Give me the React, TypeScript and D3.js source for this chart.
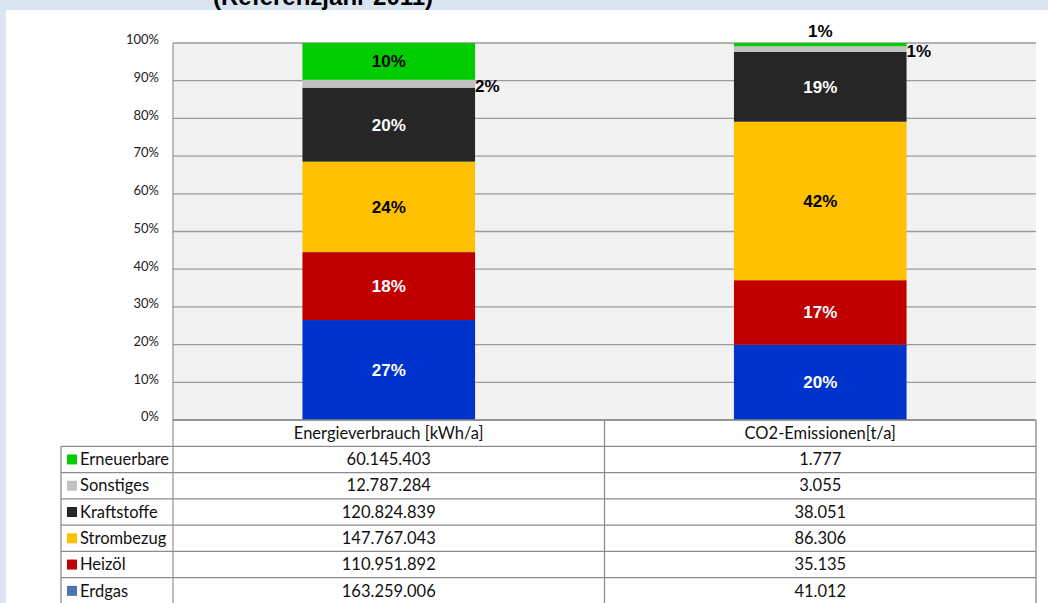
import React from "react";
import * as d3 from "d3";

// categories (columns) and the energy carriers (stack order bottom -> top)
const categories = ["Energieverbrauch [kWh/a]", "CO2-Emissionen[t/a]"];
const carriers = ["Erdgas", "Heizöl", "Strombezug", "Kraftstoffe", "Sonstiges", "Erneuerbare"];
const energyValues = [163259006, 110951892, 147767043, 120824839, 12787284, 60145403];
const co2Values = [41012, 35135, 86306, 38051, 3055, 1777];
const barColors = ["#0033cc", "#c00000", "#ffc000", "#262626", "#c0c0c0", "#00cc00"];
const legendColors = ["#4a76b0", "#c00000", "#ffc000", "#262626", "#c0c0c0", "#00cc00"];
const whiteLabel = ["Erdgas", "Heizöl", "Kraftstoffe"];
const yTicks = [0, 0.1, 0.2, 0.3, 0.4, 0.5, 0.6, 0.7, 0.8, 0.9, 1];
const title = "(Referenzjahr 2011)";

const W = 1048, H = 603;
const left = 173, right = 1036, top = 43, bottom = 420;
const calibri = "Lato, 'Open Sans', sans-serif";
const arial = "'Liberation Sans', Arial, sans-serif";

const fmt = (n: number) => d3.format(",")(n).replace(/,/g, ".");

export default function App() {
  const series = [energyValues, co2Values];
  const x = d3.scaleBand().domain(categories).range([left, right]).paddingInner(0.6).paddingOuter(0.3);
  const col = d3.scaleBand().domain(categories).range([left, right]);
  const y = d3.scaleLinear().domain([0, 1]).range([bottom, top]);
  const rowNames = ["header", ...carriers.slice().reverse()];
  const row = d3.scaleBand().domain(rowNames).range([bottom, 604]);

  const stacks = categories.map((c, ci) => {
    const vals = series[ci];
    const total = d3.sum(vals);
    let acc = 0;
    return carriers.map((k, i) => {
      const y0 = acc / total;
      acc += vals[i];
      return { key: k, i, y0, y1: acc / total, pct: Math.round((vals[i] / total) * 100) };
    });
  });

  return (
    <svg width={W} height={H} style={{ position: "absolute", left: 0, top: 0, background: "#fff" }}>
      <rect x={0} y={0} width={W} height={10} fill="#dbe5f1" />
      <rect x={0} y={0} width={6} height={H} fill="#dbe5f1" />
      <text x={213} y={5} fontFamily={arial} fontWeight="bold" fontSize={24} fill="#000">{title}</text>

      {/* plot area */}
      <rect x={left} y={top} width={right - left} height={bottom - top} fill="#f2f2f2" />
      {yTicks.map(t => (
        <g key={t}>
          <line x1={left} x2={right} y1={y(t)} y2={y(t)} stroke="#9a9a9a" strokeWidth={1.3} />
          <text x={159} y={y(t)} dy="0.1em" textAnchor="end" fontFamily={calibri} fontSize={13} fill="#222">
            {`${Math.round(t * 100)}%`}
          </text>
        </g>
      ))}
      <line x1={left} x2={left} y1={top} y2={604} stroke="#9a9a9a" strokeWidth={1.3} />

      {/* bars */}
      {stacks.map((segs, ci) => {
        const bx = x(categories[ci])!;
        const bw = x.bandwidth();
        return (
          <g key={ci}>
            {segs.map(s => (
              <rect key={s.key} x={bx} y={y(s.y1)} width={bw} height={y(s.y0) - y(s.y1)} fill={barColors[s.i]} />
            ))}
            {segs.map(s => {
              const h = y(s.y0) - y(s.y1);
              const mid = (y(s.y0) + y(s.y1)) / 2;
              let lx = bx + bw / 2, ly = mid, anchor = "middle";
              let fill = whiteLabel.includes(s.key) ? "#fff" : "#000";
              if (h < 12) {
                fill = "#000";
                if (s.key === "Erneuerbare") {
                  ly = y(s.y1) - 12;
                } else {
                  lx = bx + bw;
                  ly = mid + 2;
                  anchor = "start";
                }
              }
              return (
                <text key={s.key + "l"} x={lx} y={ly} dy="0.35em" textAnchor={anchor} fontFamily={arial}
                  fontWeight="bold" fontSize={17} fill={fill}>{`${s.pct}%`}</text>
              );
            })}
          </g>
        );
      })}

      {/* data table */}
      <g stroke="#8c8c8c" strokeWidth={1.3}>
        {rowNames.map(r => (
          <line key={r} x1={r === "header" ? left : 61} x2={right} y1={row(r)!} y2={row(r)!} />
        ))}
        <line x1={61} x2={61} y1={row("Erneuerbare")!} y2={604} />
        {categories.map(c => (
          <line key={c} x1={col(c)! + col.bandwidth()} x2={col(c)! + col.bandwidth()} y1={bottom} y2={604} />
        ))}
      </g>
      {categories.map(c => (
        <text key={c} x={col(c)! + col.bandwidth() / 2} y={row("header")! + row.bandwidth() / 2} dy="0.35em"
          textAnchor="middle" fontFamily={calibri} fontSize={16.5} fill="#111">{c}</text>
      ))}
      {carriers.map((k, i) => {
        const ry = row(k)! + row.bandwidth() / 2;
        return (
          <g key={k}>
            <rect x={67} y={ry - 5} width={10} height={10} fill={legendColors[i]} />
            <text x={80} y={ry} dy="0.35em" fontFamily={calibri} fontSize={16.5} fill="#111">{k}</text>
            {categories.map((c, ci) => (
              <text key={c} x={col(c)! + col.bandwidth() / 2} y={ry} dy="0.35em" textAnchor="middle"
                fontFamily={calibri} fontSize={16.5} fill="#111">{fmt(series[ci][i])}</text>
            ))}
          </g>
        );
      })}
    </svg>
  );
}
